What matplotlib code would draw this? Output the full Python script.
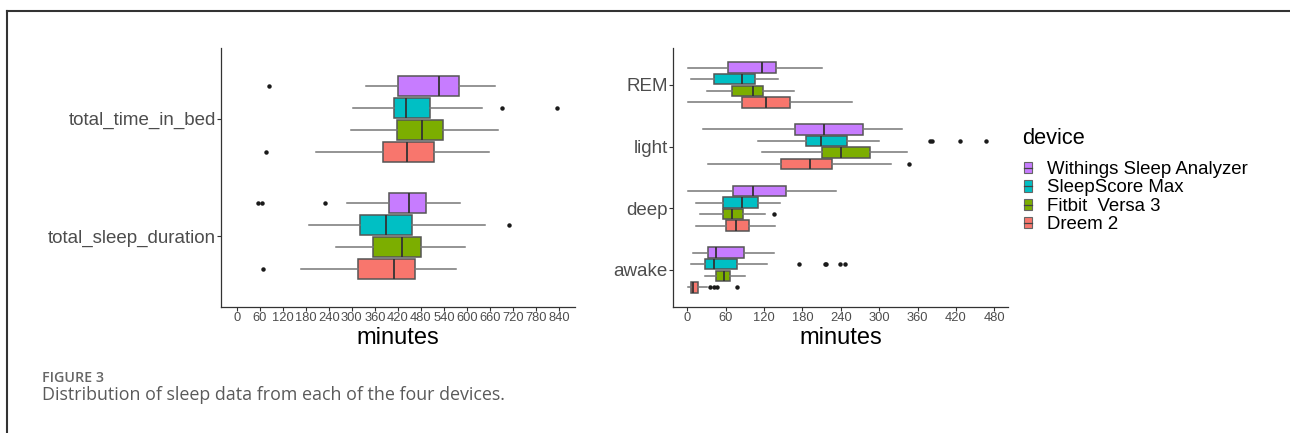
import matplotlib.pyplot as plt
from matplotlib.patches import Patch
from matplotlib.lines import Line2D
from matplotlib.legend_handler import HandlerTuple

plt.rcParams['font.family'] = ['Liberation Sans', 'DejaVu Sans']

devices = ['Withings Sleep Analyzer', 'SleepScore Max', 'Fitbit  Versa 3', 'Dreem 2']
colors = ['#C77CFF', '#00BFC4', '#7CAE00', '#F8766D']

# each row: whisker low, q1, median, q3, whisker high (minutes), one row per device
total_time_in_bed = [[337, 420, 527, 580, 673], [303, 410, 441, 504, 639],
                     [299, 419, 482, 539, 681], [206, 382, 445, 515, 657]]
time_in_bed_out = [[83], [692, 836], [], [76]]
total_sleep_duration = [[288, 396, 448, 493, 581], [189, 320, 388, 458, 648],
                        [260, 356, 430, 480, 594], [167, 316, 410, 466, 571]]
sleep_duration_out = [[55, 67, 230], [710], [], [68]]

rem = [[1, 63, 116, 139, 211], [5, 42, 86, 105, 141],
       [31, 69, 102, 118, 166], [1, 85, 123, 160, 258]]
rem_out = [[], [], [], []]
light = [[25, 169, 213, 274, 336], [111, 186, 209, 249, 300],
         [117, 210, 240, 286, 344], [33, 147, 192, 226, 318]]
light_out = [[], [379, 383, 426, 467], [], [347]]
deep = [[1, 72, 103, 154, 233], [14, 56, 85, 111, 145],
        [20, 55, 70, 87, 122], [14, 61, 76, 97, 137]]
deep_out = [[], [], [136], []]
awake = [[9, 32, 44, 88, 135], [5, 28, 42, 77, 124],
         [28, 44, 57, 67, 90], [1, 5, 8, 16, 31]]
awake_out = [[], [174, 215, 217, 239, 246], [], [36, 41, 47, 77]]

left_cats = ['total_time_in_bed', 'total_sleep_duration']
left_data = [(total_time_in_bed, time_in_bed_out), (total_sleep_duration, sleep_duration_out)]
right_cats = ['REM', 'light', 'deep', 'awake']
right_data = [(rem, rem_out), (light, light_out), (deep, deep_out), (awake, awake_out)]

left_ticks = list(range(0, 841, 60))
right_ticks = list(range(0, 481, 60))

offsets = [0.281, 0.094, -0.094, -0.281]

fig = plt.figure(figsize=(12.9, 4.33), dpi=100)
W, H = 1290, 433
ax1 = fig.add_axes([220.7 / W, 1 - 307 / H, 354.3 / W, 259 / H])
ax2 = fig.add_axes([672.7 / W, 1 - 307 / H, 335.6 / W, 259 / H])


def draw(ax, cats, data, ticks, xlim):
    n = len(cats)
    for ci, (rows, outs) in enumerate(data):
        ypos = n - ci
        for d in range(4):
            lo, q1, med, q3, hi = rows[d]
            st = [dict(whislo=lo, q1=q1, med=med, q3=q3, whishi=hi, fliers=outs[d])]
            ax.bxp(st, positions=[ypos + offsets[d]], widths=0.17, orientation='horizontal',
                   patch_artist=True, showcaps=False, manage_ticks=False,
                   boxprops=dict(facecolor=colors[d], edgecolor='#555555', linewidth=1.1),
                   whiskerprops=dict(color='#777777', linewidth=1.1),
                   medianprops=dict(color='#333333', linewidth=1.3),
                   flierprops=dict(marker='o', markersize=2.2, markerfacecolor='#1a1a1a',
                                   markeredgecolor='#1a1a1a'))
    ax.set_ylim(0.4, n + 0.6)
    ax.set_xlim(*xlim)
    ax.set_yticks(range(n, 0, -1))
    ax.set_yticklabels(cats, fontsize=13.5, color='#4d4d4d')
    ax.set_xticks(ticks)
    ax.set_xticklabels([str(t) for t in ticks], fontsize=9.3, color='#4d4d4d')
    ax.tick_params(length=2.6, width=0.8, color='#333333', pad=1)
    for s in ['top', 'right']:
        ax.spines[s].set_visible(False)
    for s in ['left', 'bottom']:
        ax.spines[s].set_color('#333333')
        ax.spines[s].set_linewidth(0.9)
    ax.set_xlabel('minutes', fontsize=17, color='black', labelpad=2)


draw(ax1, left_cats, left_data, left_ticks, (-42, 882))
draw(ax2, right_cats, right_data, right_ticks, (-23, 502))

handles = [(Patch(facecolor=c, edgecolor='#666666', linewidth=0.8),
            Line2D([], [], color='#444444', linewidth=0.9)) for c in colors]
fig.legend(handles, devices, loc='upper left', bbox_to_anchor=(1024 / W, 1 - 161 / H),
           frameon=False, fontsize=13.4, handlelength=0.45, handleheight=0.55,
           handletextpad=0.8, labelspacing=0.08, borderpad=0, borderaxespad=0,
           handler_map={tuple: HandlerTuple(ndivide=1)})
fig.text(1022 / W, 1 - 138 / H, 'device', fontsize=15.7, va='center', color='black')

# outer frame and caption
fig.add_artist(Line2D([7 / W, 7 / W], [0, 1 - 11 / H], color='#333333', linewidth=1.5))
fig.add_artist(Line2D([7 / W, 1], [1 - 11 / H, 1 - 11 / H], color='#333333', linewidth=1.5))
fig.text(42 / W, 1 - 382 / H, 'FIGURE 3', fontsize=10.3, family=['Open Sans', 'DejaVu Sans'],
         weight='semibold', color='#666666', va='baseline')
fig.text(42 / W, 1 - 400 / H, 'Distribution of sleep data from each of the four devices.',
         fontsize=12.9, family=['Open Sans', 'DejaVu Sans'], color='#5a5a5a', va='baseline')

fig.savefig('out.png', dpi=100)
